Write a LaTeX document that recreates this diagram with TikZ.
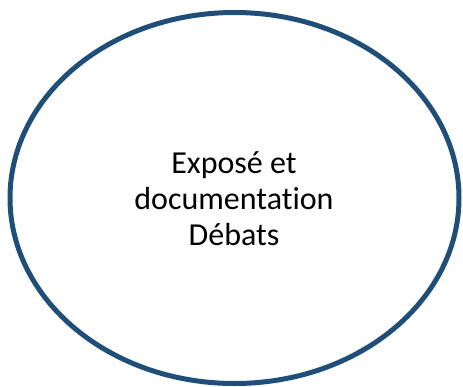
\documentclass[tikz,border=0pt]{standalone}
\usepackage{fontspec}
\setmainfont[Ligatures={NoCommon}]{Carlito}
\usetikzlibrary{shapes.geometric}
\definecolor{ringblue}{HTML}{1F4E79}
\tikzset{
  ring/.style={draw=ringblue, line width=5pt, ellipse, inner sep=0pt},
  label/.style={align=center, inner sep=0pt, font=\fontsize{32}{36}\selectfont}
}
\begin{document}
\begin{tikzpicture}[x=1pt,y=-1pt]
\useasboundingbox (0,0) rectangle (463,386);
\node (oval) [ring, minimum width=449pt, minimum height=371pt] at (234.5,198) {};
\node (txt) [label, anchor=base] at (234,245) {Exposé et\\documentation\\Débats};
\end{tikzpicture}
\end{document}
